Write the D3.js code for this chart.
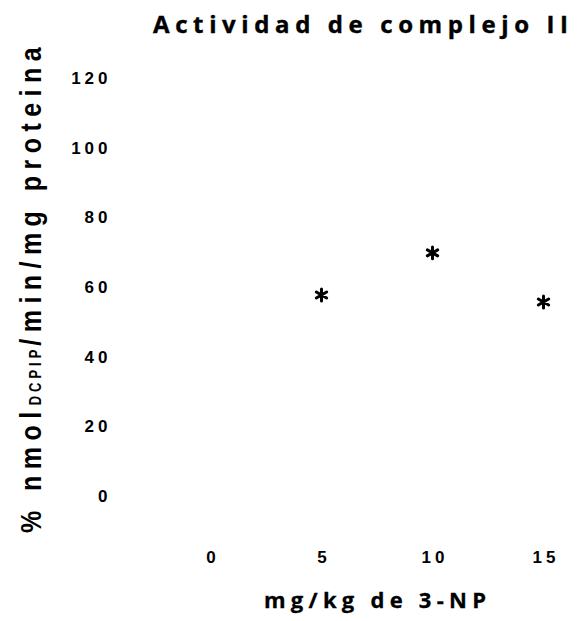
<!DOCTYPE html>
<html>
<head>
<meta charset="utf-8">
<script src="https://cdn.jsdelivr.net/npm/d3@7"></script>
<style>
  html, body { margin: 0; padding: 0; background: #fff; }
  svg { display: block; }
</style>
</head>
<body>
<svg id="chart" width="582" height="621"></svg>
<script>
// ---- data ----
const categories = ["0", "5", "10", "15"];
const doses = ["5", "10", "15"];
const values = [57.7, 69.8, 55.7];
const yTicks = [0, 20, 40, 60, 80, 100, 120];
const titleText = "Actividad de complejo II";
const xLabelText = "mg/kg de 3-NP";

const svg = d3.select("#chart");
const W = 582, H = 621;
svg.append("rect").attr("width", W).attr("height", H).attr("fill", "#fff");

const x = d3.scalePoint().domain(categories).range([210.5, 543.5]);
const y = d3.scaleLinear().domain([0, 120]).range([496, 78]);

function fitSpacing(sel, target) {
  const n = sel.text().length;
  sel.attr("letter-spacing", 0);
  const w = sel.node().getComputedTextLength();
  const ls = (target - w) / (n - 1);
  sel.attr("letter-spacing", ls);
  return ls;
}

const tickFont = "'Liberation Sans', Arial, sans-serif";
const tickLS = 4;

// y axis (no line, no ticks)
const yAxis = d3.axisLeft(y).tickValues(yTicks).tickSize(0).tickPadding(0);
const gy = svg.append("g").attr("transform", "translate(111.5,0)").call(yAxis);
gy.select(".domain").remove();
gy.selectAll("text")
  .attr("font-family", tickFont)
  .attr("font-weight", "bold")
  .attr("font-size", 17)
  .attr("letter-spacing", tickLS)
  .attr("fill", "#000");

// x axis (no line, no ticks)
const xAxis = d3.axisBottom(x).tickSize(0).tickPadding(0);
const gx = svg.append("g").attr("transform", "translate(0,551)").call(xAxis);
gx.select(".domain").remove();
gx.selectAll("text")
  .attr("font-family", tickFont)
  .attr("font-weight", "bold")
  .attr("font-size", 17)
  .attr("letter-spacing", tickLS)
  .attr("dx", tickLS / 2)
  .attr("fill", "#000");

// asterisk markers
const star = d3.symbol().type(d3.symbolAsterisk).size(100);
svg.append("g").selectAll("path")
  .data(doses.map((d, i) => ({ d, v: values[i] })))
  .join("path")
  .attr("d", star)
  .attr("transform", p => `translate(${x(p.d)},${y(p.v)})`)
  .attr("fill", "none")
  .attr("stroke", "#000")
  .attr("stroke-width", 3)
  .attr("stroke-linecap", "round");

// title
const title = svg.append("text")
  .attr("x", 153).attr("y", 33)
  .attr("font-family", "'Open Sans', sans-serif")
  .attr("font-weight", "bold")
  .attr("font-size", 24)
  .attr("stroke", "#000")
  .attr("stroke-width", 0.4)
  .attr("fill", "#000")
  .text(titleText);
fitSpacing(title, 415);

// x label
const xl = svg.append("text")
  .attr("x", 264).attr("y", 608)
  .attr("font-family", "'Open Sans', sans-serif")
  .attr("font-weight", "bold")
  .attr("font-size", 22)
  .attr("stroke", "#000")
  .attr("stroke-width", 0.3)
  .attr("fill", "#000")
  .text(xLabelText);
fitSpacing(xl, 222);

// y label, rotated, with small-caps subscript
const yl = svg.append("text")
  .attr("transform", "translate(41,533) rotate(-90) scale(1,1.2)")
  .attr("font-family", "'Liberation Sans', Arial, sans-serif")
  .attr("font-weight", "bold")
  .attr("font-size", 25)
  .attr("fill", "#000");
const t1 = yl.append("tspan").text("% nmol");
const t2 = yl.append("tspan").attr("font-size", 13).attr("letter-spacing", 4).text("DCPIP");
const t3 = yl.append("tspan").text("/min/mg proteina");
t1.attr("letter-spacing", 0); t3.attr("letter-spacing", 0);
const base = yl.node().getComputedTextLength();
const nMain = ("% nmol" + "/min/mg proteina").length;
const ls = (492 - base) / nMain;
t1.attr("letter-spacing", ls); t3.attr("letter-spacing", ls);
</script>
</body>
</html>
